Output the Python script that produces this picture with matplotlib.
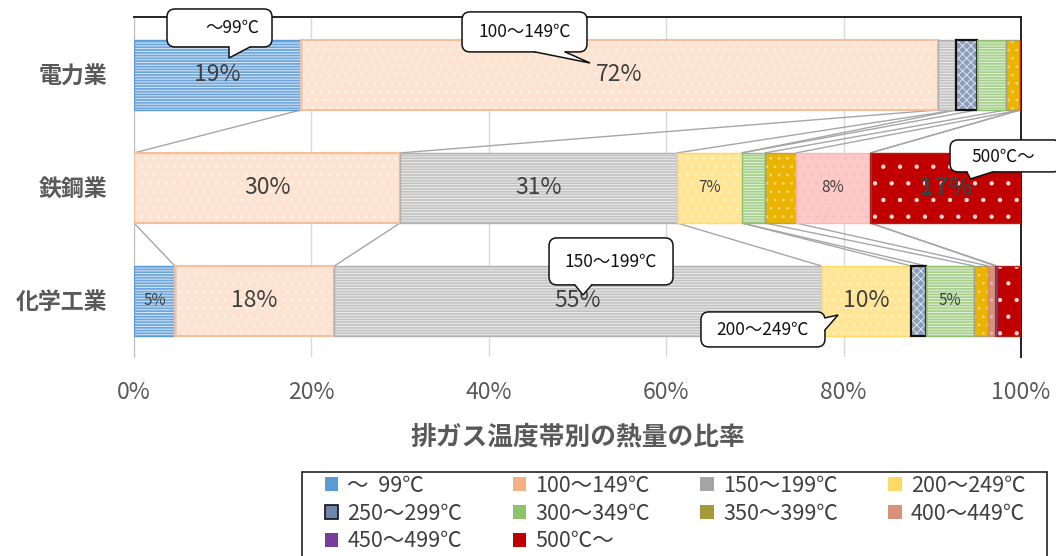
import matplotlib
matplotlib.use('Agg')
import matplotlib.pyplot as plt
from matplotlib.patches import Patch, FancyBboxPatch, Polygon, Rectangle
from matplotlib.ticker import FuncFormatter
import numpy as np

plt.rcParams['font.family'] = ['Noto Sans CJK JP', 'DejaVu Sans']
plt.rcParams['hatch.linewidth'] = 0.7

# ---------------- data ----------------
categories = ['電力業', '鉄鋼業', '化学工業']
series_names = ['～  99℃', '100～149℃', '150～199℃', '200～249℃', '250～299℃',
                '300～349℃', '350～399℃', '400～449℃', '450～499℃', '500℃～']
v_000_099 = [18.8, 0.0, 4.6]
v_100_149 = [71.8, 30.0, 18.0]
v_150_199 = [2.1, 31.2, 54.9]
v_200_249 = [0.0, 7.3, 10.1]
v_250_299 = [2.3, 0.0, 1.7]
v_300_349 = [3.3, 2.6, 5.4]
v_350_399 = [1.6, 3.5, 1.6]
v_400_449 = [0.0, 8.4, 0.8]
v_450_499 = [0.0, 0.0, 0.2]
v_500_up = [0.1, 17.0, 2.7]
xticks = [0, 20, 40, 60, 80, 100]
title = '排ガス温度帯別の熱量の比率'

# labels shown inside bars: (series index, row index)
big_labels = [(0, 0), (1, 0), (1, 1), (2, 1), (1, 2), (2, 2), (3, 2)]
small_labels = [(3, 1), (7, 1), (0, 2), (5, 2)]
bold_labels = [(9, 1)]

# callouts: text, text centre, box (x0, x1, y0, y1), base pt 1, base pt 2, tip, side
callouts = [
    ('～99℃', (11.05, -0.416), (3.72, 15.56, -0.584, -0.248),
     (10.71, -0.248), (13.08, -0.248), (10.71, -0.150), 'bottom'),
    ('100～149℃', (44.0, -0.381), (36.98, 51.07, -0.558, -0.204),
     (45.2, -0.204), (48.6, -0.204), (51.41, -0.106), 'bottom'),
    ('500℃～', (98.0, 0.726), (92.0, 104.5, 0.575, 0.858),
     (93.9, 0.858), (96.8, 0.858), (94.3, 0.920), 'bottom'),
    ('150～199℃', (53.8, 1.650), (46.79, 60.77, 1.442, 1.858),
     (49.7, 1.858), (51.6, 1.858), (50.62, 1.947), 'bottom'),
    ('200～249℃', (70.9, 2.252), (63.92, 77.90, 2.097, 2.407),
     (77.90, 2.150), (77.90, 2.257), (79.37, 2.124), 'right'),
]

values = np.array([v_000_099, v_100_149, v_150_199, v_200_249, v_250_299,
                   v_300_349, v_350_399, v_400_449, v_450_499, v_500_up])

# ---------------- styles ----------------
face = ['#6FA6DC', '#FCE3D2', '#C3C3C3', '#FFE596', '#8C9DBA',
        '#A6D08C', '#EBB400', ['#D9927A', '#FFC8C8', '#D9927A'], '#7A3C9C', '#C00000']
edge = ['#5B9BD5', '#F6BE9A', '#B0B0B0', '#FFD966', '#111111',
        '#8FC070', '#A8A070', ['#D08A70', '#F9B8B8', '#D08A70'], '#6A2C8C', '#B02010']
edge_lw = [1.0, 1.5, 1.0, 1.0, 1.6, 1.0, 1.0, 1.0, 0.8, 1.0]
hatch = ['------', '..', '------', '..', 'xxxx', '------', '..', '..', None, '.']
hatch_col = ['#D8E8F8', '#FFF4EC', '#EEEEEE', '#FFF3C8', '#DDE2EC',
             '#E4F2DA', '#F6DA80', '#F2C0B0', None, '#FFDADA']
legend_face = ['#5B9BD5', '#F4B183', '#A5A5A5', '#FFD966', '#6F86B0',
               '#8CC46C', '#A59A3A', '#D9927A', '#7A3C9C', '#C00000']

W, H = 1056, 556
fig = plt.figure(figsize=(W / 100, H / 100), dpi=100)
ax_l, ax_t, ax_r, ax_b = 134, 17, 1021, 357
ax = fig.add_axes([ax_l / W, 1 - ax_b / H, (ax_r - ax_l) / W, (ax_b - ax_t) / H])
ylim = (2.496, -0.513)

bar_h = 0.62
ypos = np.arange(len(categories))
left = np.zeros(len(categories))
cums = []
for k in range(len(series_names)):
    w = values[k]
    for i in range(len(categories)):
        if w[i] <= 0:
            continue
        fc = face[k][i] if isinstance(face[k], list) else face[k]
        ec = edge[k][i] if isinstance(edge[k], list) else edge[k]
        ax.barh(ypos[i], w[i], left=left[i], height=bar_h, color=fc,
                linewidth=0, zorder=3)
        if hatch[k]:
            ax.barh(ypos[i], w[i], left=left[i], height=bar_h, fill=False,
                    hatch=hatch[k], edgecolor=hatch_col[k], linewidth=0, zorder=4)
        ax.barh(ypos[i], w[i], left=left[i], height=bar_h, fill=False,
                edgecolor=ec, linewidth=edge_lw[k], zorder=5)
    for (kk, ii) in big_labels + small_labels + bold_labels:
        if kk == k:
            size = 16.5 if (kk, ii) in big_labels else 11
            weight = 'normal'
            if (kk, ii) in bold_labels:
                size, weight = 18, 'bold'
            ax.text(left[ii] + w[ii] / 2, ypos[ii], f'{round(w[ii])}%',
                    ha='center', va='center', fontsize=size, fontweight=weight,
                    color='#404040', zorder=6)
    left = left + w
    cums.append(left.copy())

# series lines
for i in range(len(categories) - 1):
    for k in range(len(series_names)):
        ax.plot([cums[k][i], cums[k][i + 1]],
                [ypos[i] + bar_h / 2, ypos[i + 1] - bar_h / 2],
                color='#A6A6A6', lw=1.0, zorder=2, solid_capstyle='butt')

ax.set_xlim(0, 100)
ax.set_ylim(*ylim)
ax.set_xticks(xticks)
ax.xaxis.set_major_formatter(FuncFormatter(lambda x, p: f'{int(x)}%'))
ax.set_yticks(ypos)
ax.set_yticklabels(categories, fontsize=16.5, fontweight='bold', color='#595959')
ax.tick_params(axis='x', length=0, pad=17, labelsize=16.5, labelcolor='#595959')
ax.tick_params(axis='y', length=0, pad=19)
ax.grid(axis='x', color='#D9D9D9', lw=1)
ax.set_axisbelow(True)
ax.spines['bottom'].set_visible(False)
ax.spines['left'].set_color('#BFBFBF')
for s in ['top', 'right']:
    ax.spines[s].set_color('#222222')
    ax.spines[s].set_linewidth(1.4)

# ---------------- callouts (speech bubbles) ----------------
px_x = (ax_r - ax_l) / 100.0
px_y = (ax_b - ax_t) / abs(ylim[0] - ylim[1])
aspect = px_x / px_y
r = 8 / px_x
for text, tc, (x0, x1, y0, y1), b1, b2, tip, side in callouts:
    box = FancyBboxPatch((x0, y0), x1 - x0, y1 - y0,
                         boxstyle=f'round,pad=0,rounding_size={r}',
                         mutation_aspect=aspect, fc='white', ec='#111111', lw=1.1,
                         transform=ax.transData, clip_on=False, zorder=10)
    ax.add_patch(box)
    if side == 'bottom':
        d = np.array([0, -3 / px_y])
    else:
        d = np.array([-3 / px_x, 0])
    b1a, b2a = np.array(b1), np.array(b2)
    poly = Polygon([b1a + d, b1a, tip, b2a, b2a + d], closed=True, fc='white',
                   ec='none', clip_on=False, zorder=11)
    ax.add_patch(poly)
    ax.plot([b1[0], tip[0], b2[0]], [b1[1], tip[1], b2[1]], color='#111111',
            lw=1.1, clip_on=False, zorder=12, solid_joinstyle='miter')
    ax.text(tc[0], tc[1], text, ha='center', va='center', fontsize=12.5,
            color='#111111', zorder=13, clip_on=False)

fig.text(577.5 / W, 1 - 437 / H, title, ha='center', va='center',
         fontsize=18.5, fontweight='bold', color='#595959')

# ---------------- legend (row-major order) ----------------
handles = []
for k in range(len(series_names)):
    ec = '#111111' if k == 4 else legend_face[k]
    handles.append(Patch(facecolor=legend_face[k], edgecolor=ec,
                         linewidth=1.2 if k == 4 else 0))
ncol = 4
nrow = int(np.ceil(len(series_names) / ncol))
order = [rr * ncol + c for c in range(ncol) for rr in range(nrow)
         if rr * ncol + c < len(series_names)]
leg = fig.legend([handles[o] for o in order], [series_names[o] for o in order],
                 ncol=ncol, loc='upper left',
                 bbox_to_anchor=(325 / W, 1 - 475 / H),
                 borderaxespad=0, borderpad=0, fontsize=15.5, frameon=False,
                 handlelength=0.62, handleheight=0.62, handletextpad=0.42,
                 labelspacing=0.26, columnspacing=2.35, labelcolor='#404040')
fig.patches.append(Rectangle((302 / W, -0.05), (1047 - 302) / W, (H - 472) / H + 0.05,
                             transform=fig.transFigure, fill=False,
                             ec='#222222', lw=1.2, zorder=0))

fig.savefig('out.png', dpi=100)
